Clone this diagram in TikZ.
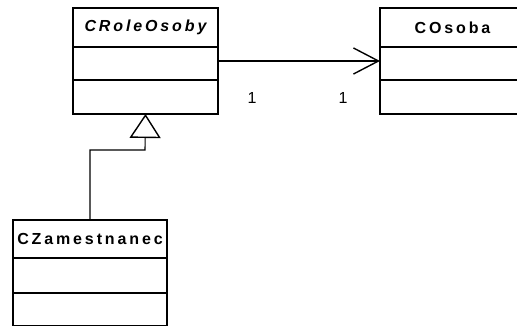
\documentclass[tikz,border=0pt]{standalone}
\usepackage{fontspec}
\setmainfont{Liberation Sans}
\newfontfamily\umlfont[LetterSpace=18]{Liberation Sans}
\usetikzlibrary{positioning,arrows.meta}

\begin{document}
\begin{tikzpicture}[x=1pt,y=-1pt,
	trida/.style={draw,line width=1.5pt,inner sep=0pt,outer sep=0pt,anchor=north west,font=\fontsize{16}{19}\selectfont\umlfont\bfseries},
	oddil/.style={draw,line width=1.5pt,inner sep=0pt,outer sep=0pt,below=0pt of #1},
	spoj/.style={line width=1.1pt}]
		\clip (0,0) rectangle (517,327);
		% tridy
		\node[trida,minimum width=145pt,minimum height=39pt] (role) at (73,8) {\itshape CRoleOsoby};
		\node[oddil=role,minimum width=145pt,minimum height=33pt] (roleatr) {};
		\node[oddil=roleatr,minimum width=145pt,minimum height=34pt] (roleop) {};
		\node[trida,minimum width=145pt,minimum height=39pt] (osoba) at (380,8) {COsoba};
		\node[oddil=osoba,minimum width=145pt,minimum height=33pt] (osobaatr) {};
		\node[oddil=osobaatr,minimum width=145pt,minimum height=34pt] (osobaop) {};
		\node[trida,minimum width=154pt,minimum height=38pt] (zam) at (13,220) {CZamestnanec};
		\node[oddil=zam,minimum width=154pt,minimum height=35pt] (zamatr) {};
		\node[oddil=zamatr,minimum width=154pt,minimum height=32.5pt] (zamop) {};
		% asociace
		\draw[spoj,-{Straight Barb[length=25pt,width=26pt,line width=1.4pt]}] ([yshift=2.5pt]roleatr.east)--([yshift=2.5pt]osobaatr.west);
		\node[font=\fontsize{16}{19}\selectfont] (n1) at (252,98) {1};
		\node[font=\fontsize{16}{19}\selectfont] (n2) at (343,98) {1};
		% dedicnost
		\coordinate (ohyb) at (145,150);
		\draw[spoj,-{Triangle[open,length=24pt,width=31pt,line width=1.4pt]}] (zam.north)|-(ohyb)--(roleop.south);
\end{tikzpicture}
\end{document}
